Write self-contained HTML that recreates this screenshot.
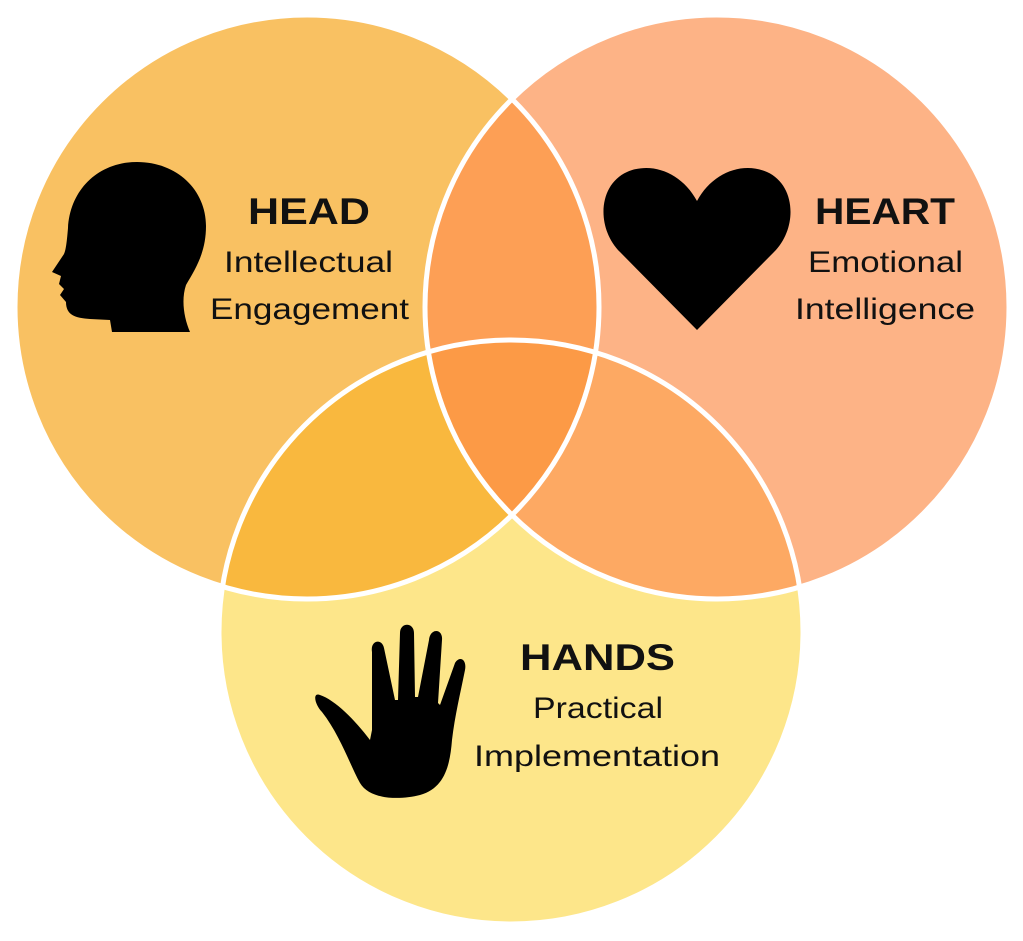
<!DOCTYPE html>
<html><head><style>
html,body{margin:0;padding:0;background:#fff;}
svg{display:block;}
text{font-family:"Liberation Sans",sans-serif;fill:#111;}
</style></head><body>
<svg width="1023" height="941" viewBox="0 0 1023 941" xmlns="http://www.w3.org/2000/svg">
<defs>
<clipPath id="cA"><circle cx="307" cy="307" r="292"/></clipPath>
<clipPath id="cB"><circle cx="717" cy="307" r="292"/></clipPath>
<clipPath id="cC"><circle cx="511" cy="632" r="292"/></clipPath>
</defs>
<circle cx="307" cy="307" r="292" fill="#F9C162"/>
<circle cx="717" cy="307" r="292" fill="#FDB386"/>
<circle cx="511" cy="632" r="292" fill="#FDE68A"/>
<g clip-path="url(#cA)"><circle cx="717" cy="307" r="292" fill="#FD9F55"/><circle cx="511" cy="632" r="292" fill="#F9B83E"/></g>
<g clip-path="url(#cB)"><circle cx="511" cy="632" r="292" fill="#FDA963"/></g>
<g clip-path="url(#cA)"><g clip-path="url(#cB)"><circle cx="511" cy="632" r="292" fill="#FC9A46"/></g></g>
<g fill="none" stroke="#fff" stroke-width="5">
<circle cx="307" cy="307" r="292"/><circle cx="717" cy="307" r="292"/><circle cx="511" cy="632" r="292"/>
</g>
<path d="M137,162 C98,162 70,190 68,228 C67,240 66,250 64,254 L52,272 L61,276 L59,284 L64,289 L60,295 L66,302 C66,315 75,318 90,319 L110,320 L112,332 L190,332 C184,318 181,300 186,285 C196,268 206,252 206,226 C206,190 177,162 137,162 Z" fill="#000"/>
<path d="M697,330 L620,252 C596,228 598,185 627,172 C652,161 682,173 697,201 C712,173 742,161 767,172 C796,185 798,228 774,252 Z" fill="#000"/>
<path d="M370,740 C355,720 335,700 320,695 C312,692 315,705 322,712 C340,735 350,765 360,783 C370,800 400,800 420,795 C445,788 450,765 452,740 C455,715 460,695 465,670 C467,660 460,655 455,663 L440,705 L438,703 L442,640 C443,628 430,628 429,640 L418,697 L415,697 L414,633 C414,622 400,622 400,633 L398,700 L395,700 L384,648 C382,638 370,640 372,652 L372,730 Z" fill="#000"/>
<text x="248" y="224" font-size="37" font-weight="bold" textLength="122" lengthAdjust="spacingAndGlyphs">HEAD</text>
<text x="224" y="272" font-size="30" textLength="169" lengthAdjust="spacingAndGlyphs">Intellectual</text>
<text x="210" y="319" font-size="30" textLength="199" lengthAdjust="spacingAndGlyphs">Engagement</text>
<text x="815" y="224" font-size="37" font-weight="bold" textLength="140" lengthAdjust="spacingAndGlyphs">HEART</text>
<text x="808" y="272" font-size="30" textLength="155" lengthAdjust="spacingAndGlyphs">Emotional</text>
<text x="795" y="319" font-size="30" textLength="180" lengthAdjust="spacingAndGlyphs">Intelligence</text>
<text x="520" y="670" font-size="37" font-weight="bold" textLength="155" lengthAdjust="spacingAndGlyphs">HANDS</text>
<text x="533" y="718" font-size="30" textLength="130" lengthAdjust="spacingAndGlyphs">Practical</text>
<text x="474" y="766" font-size="30" textLength="246" lengthAdjust="spacingAndGlyphs">Implementation</text>
</svg>
</body></html>
